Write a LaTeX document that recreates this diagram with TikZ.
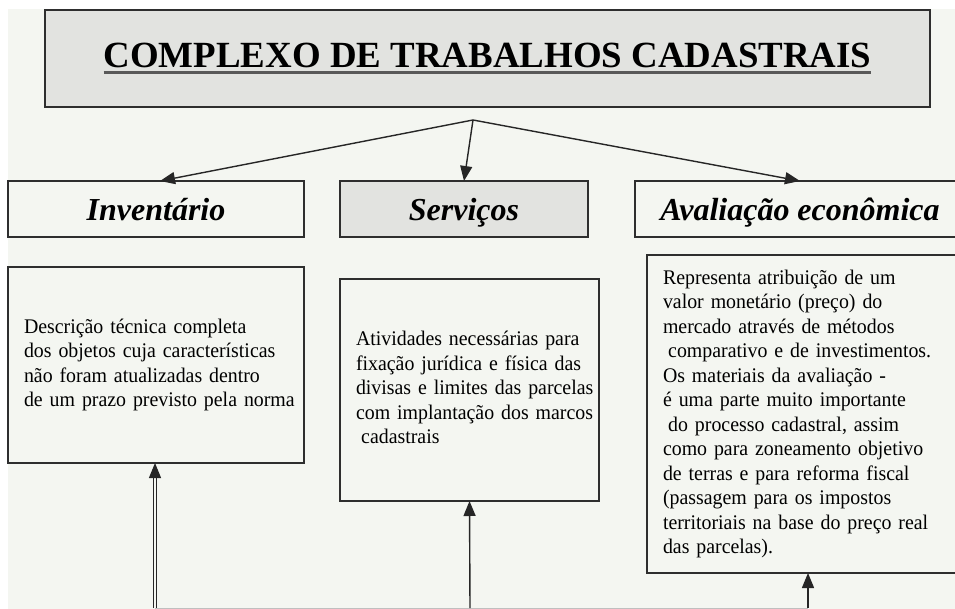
\documentclass[tikz,border=0pt]{standalone}
\usepackage{fontspec}
\setmainfont{Liberation Serif}
\newfontfamily\bodyfont[FakeStretch=0.955]{Liberation Serif}
\usetikzlibrary{arrows.meta,positioning}
\definecolor{paper}{HTML}{F4F6F1}
\definecolor{shade}{HTML}{E2E3E0}
\definecolor{edge}{HTML}{2E2E2E}
\tikzset{>={Triangle[length=15pt,width=12pt]}}
\tikzset{plain box/.style={draw=edge,line width=1.3pt,outer sep=0pt,inner sep=0pt}}
\tikzset{shaded box/.style={plain box,fill=shade}}
\tikzset{head box/.style={plain box,minimum height=56pt,text height=27pt,text depth=3pt,
    font=\fontsize{32}{36}\selectfont\bfseries\itshape}}
\tikzset{text box/.style={plain box,align=left,inner xsep=16pt,font=\bodyfont\fontsize{20.8}{24.5}\selectfont}}
\tikzset{link/.style={->,draw=black!85,line width=1.4pt}}
\newcommand{\titleline}[1]{\setbox0=\hbox{#1}\rlap{\copy0}\raisebox{-6pt}{\color{black!65}\rule{\wd0}{2.5pt}}}
\newcommand{\boxlines}[1]{\begin{tabular}{@{}l@{}}#1\end{tabular}}
\newcommand{\lead}{\hspace*{0.25em}}

\begin{document}
\begin{tikzpicture}[x=1pt,y=-1pt]
    \useasboundingbox (0,0) rectangle (955,609);
    \fill[white] (0,0) rectangle (955,609);
    \fill[paper] (8,9) rectangle (955,609);

    \node[shaded box,line width=2pt,minimum width=885pt,minimum height=97pt] (title) at (487.5,58.5)
        {\fontsize{36.9}{40}\selectfont\bfseries\titleline{COMPLEXO DE TRABALHOS CADASTRAIS}};

    \node[head box,minimum width=296pt] (inv) at (156,209) {Inventário};
    \node[head box,shaded box,minimum width=248pt] (serv) [right=36pt of inv] {Serviços};
    \node[head box,minimum width=330pt] (aval) [right=47pt of serv] {Avaliação econômica};

    \node[text box,text width=264pt,minimum height=196pt] (invtxt) [below=30pt of inv]
        {\boxlines{Descrição técnica completa\\
         dos objetos cuja características\\
         não foram atualizadas dentro\\
         de um prazo previsto pela norma}};
    \node[text box,text width=227pt,minimum height=222pt] (servtxt) [below=42pt of serv,xshift=5.5pt]
        {\boxlines{Atividades necessárias para\\
         fixação jurídica e física das\\
         divisas e limites das parcelas\\
         com implantação dos marcos\\
         \lead cadastrais}};
    \node[text box,text width=290pt,minimum height=318pt] (avaltxt) [below=18pt of aval,xshift=8pt]
        {\boxlines{Representa atribuição de um\\
         valor monetário (preço) do\\
         mercado através de métodos\\
         \lead comparativo e de investimentos.\\
         Os materiais da avaliação -\\
         é uma parte muito importante\\
         \lead do processo cadastral, assim\\
         como para zoneamento objetivo\\
         de terras e para reforma fiscal\\
         (passagem para os impostos\\
         territoriais na base do preço real\\
         das parcelas).}};

    % fork under the title
    \coordinate (fork) at (473,120);
    \draw[link] (fork) -- ([xshift=4pt]inv.north);
    \draw[link] (fork) -- (serv.north);
    \draw[link] (fork) -- (aval.north);

    % feeds from below
    \coordinate (invfoot) at (155,608);
    \coordinate (servfoot) at (470,608);
    \coordinate (avalfoot) at (808,608);
    \draw[black!25,line width=1pt] (invfoot) -- (avalfoot);
    \draw[link,line width=1.1pt,double=paper,double distance=2pt] (invfoot) -- (invfoot |- invtxt.south);
    \draw[link] (servfoot) -- (servtxt.south);
    \draw[link] (avalfoot) -- (avalfoot |- avaltxt.south);
\end{tikzpicture}
\end{document}
